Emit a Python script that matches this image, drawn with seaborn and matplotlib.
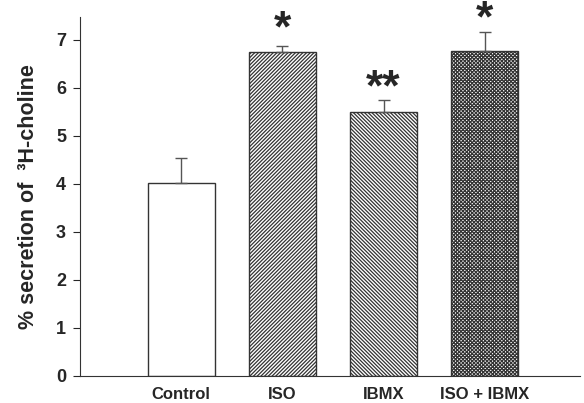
import matplotlib
matplotlib.use("Agg")
import matplotlib.pyplot as plt
import seaborn as sns
import pandas as pd

categories = ["Control", "ISO", "IBMX", "ISO + IBMX"]
means = [4.02, 6.75, 5.50, 6.78]
errors = [0.52, 0.12, 0.25, 0.39]
stars = ["", "*", "**", "*"]
star_y = [0, 7.22, 5.98, 7.42]
hatches = ["", "/" * 9, "\\" * 9, "x" * 9]

sns.set_style("ticks")
plt.rcParams["font.family"] = ["Liberation Sans", "DejaVu Sans"]
plt.rcParams["hatch.linewidth"] = 0.9
plt.rcParams["hatch.color"] = "#222222"

df = pd.DataFrame({"cond": categories, "val": means})

fig = plt.figure(figsize=(5.84, 4.03), dpi=100)
ax = fig.add_axes([0.137, 0.067, 0.856, 0.891])
sns.barplot(data=df, x="cond", y="val", color="white", width=0.66,
            edgecolor="#333333", linewidth=1.0, errorbar=None, ax=ax)
for p, h in zip(ax.patches, hatches):
    p.set_hatch(h)
    p.set_facecolor("white")

ax.errorbar(range(len(categories)), means, yerr=[[0]*len(errors), errors],
            fmt="none", ecolor="#555555", elinewidth=1.0, capsize=4, capthick=1.0)

for i, (s, y) in enumerate(zip(stars, star_y)):
    if s:
        ax.text(i, y, s, ha="center", va="center", fontsize=32,
                fontweight="bold", clip_on=False)

ax.set_xlim(-1.0, 3.94)
ax.set_ylim(0, 7.48)
ax.set_yticks(range(0, 8))
ax.set_xlabel("")
ax.set_ylabel("% secretion of  ³H-choline", fontsize=15.5, fontweight="bold", labelpad=12)
ax.tick_params(axis="y", direction="out", length=5, width=0.8, labelsize=13, pad=5)
ax.tick_params(axis="x", length=0, labelsize=12, pad=8)
for lab in ax.get_xticklabels() + ax.get_yticklabels():
    lab.set_fontweight("bold")
sns.despine(ax=ax)
for sp in ["left", "bottom"]:
    ax.spines[sp].set_linewidth(0.8)
    ax.spines[sp].set_color("#333333")

fig.savefig("out.png", dpi=100)
